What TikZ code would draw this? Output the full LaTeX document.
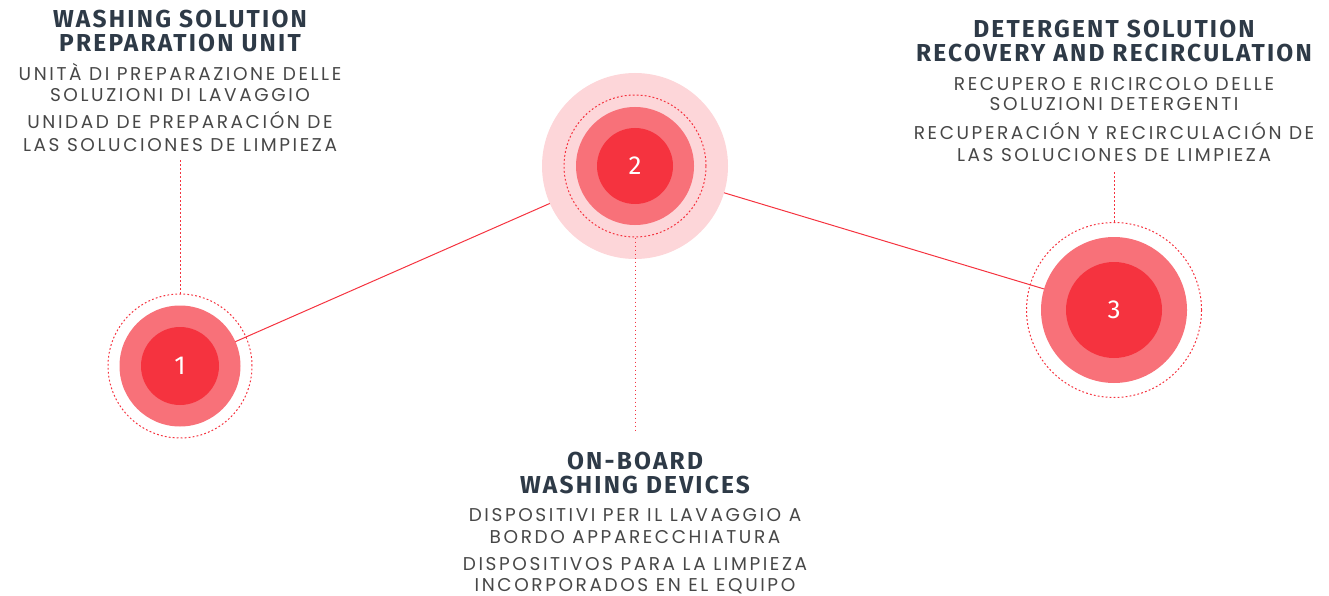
\documentclass[tikz,border=0pt]{standalone}
\usepackage{fontspec}
\setmainfont{Poppins}
\newfontfamily\headfont[LetterSpace=9.0]{Fira Sans}
\newfontfamily\subfont[LetterSpace=14.0]{Poppins}
\usetikzlibrary{calc}

\definecolor{redcore}{HTML}{F5333F}
\definecolor{redring}{HTML}{F87179}
\definecolor{redhalo}{HTML}{FDD6D9}
\definecolor{inkhead}{HTML}{2E3A47}
\definecolor{inksub}{HTML}{474747}

\tikzset{
  head/.style={font=\headfont\bfseries\fontsize{24.5}{24.5}\selectfont, text=inkhead, anchor=base, inner sep=0pt},
  sub/.style={font=\subfont\fontsize{18.5}{18.5}\selectfont, text=inksub, anchor=base, inner sep=0pt},
  link/.style={redcore, line width=1pt},
  dots/.style={redcore, line width=1pt, dash pattern=on 1.8pt off 2.2pt},
  num/.style={font=\headfont\fontsize{26}{26}\selectfont, text=white}
}

\begin{document}
\begin{tikzpicture}[x=1pt, y=-1pt]
\useasboundingbox (0,0) rectangle (1329,596);

% stations
\coordinate (c1) at (180,366);
\coordinate (c2) at (635,166);
\coordinate (c3) at (1114,310);

\draw[link] (c1) -- (c2) -- (c3);

\fill[redhalo] (c2) circle (93pt);
\fill[redring] (c1) circle (60.5pt);
\fill[redring] (c2) circle (59pt);
\fill[redring] (c3) circle (73pt);
\fill[redcore] (c1) circle (39pt);
\fill[redcore] (c2) circle (38pt);
\fill[redcore] (c3) circle (48pt);

\node[circle, dots, draw, minimum size=144pt] (r1) at (c1) {};
\node[circle, dots, draw, minimum size=142pt] (r2) at (c2) {};
\node[circle, dots, draw, minimum size=175pt] (r3) at (c3) {};

\node[num] (n1) at (c1) {1};
\node[num] (n2) at (c2) {2};
\node[num] (n3) at (c3) {3};

% leaders
\coordinate (d1) at (180,160);
\coordinate (d2) at (635,432);
\coordinate (d3) at (1114,172);
\draw[dots] (r1.north) -- (d1);
\draw[dots] (r2.south) -- (d2);
\draw[dots] (r3.north) -- (d3);

% texts, station 1
\node[head] (h1a) at (180,27.5) {WASHING SOLUTION};
\node[head] (h1b) at (180,51.5) {PREPARATION UNIT};
\node[sub] (i1a) at (180,80.5) {UNITÀ DI PREPARAZIONE DELLE};
\node[sub] (i1b) at (180,101.5) {SOLUZIONI DI LAVAGGIO};
\node[sub] (e1a) at (180,128.5) {UNIDAD DE PREPARACIÓN DE};
\node[sub] (e1b) at (180,151.5) {LAS SOLUCIONES DE LIMPIEZA};

% texts, station 2
\node[head] (h2a) at (635,469.5) {ON-BOARD};
\node[head] (h2b) at (635,493.5) {WASHING DEVICES};
\node[sub] (i2a) at (635,521.5) {DISPOSITIVI PER IL LAVAGGIO A};
\node[sub] (i2b) at (635,543) {BORDO APPARECCHIATURA};
\node[sub] (e2a) at (635,570.5) {DISPOSITIVOS PARA LA LIMPIEZA};
\node[sub] (e2b) at (635,591.5) {INCORPORADOS EN EL EQUIPO};

% texts, station 3
\node[head] (h3a) at (1114,37.5) {DETERGENT SOLUTION};
\node[head] (h3b) at (1114,61.5) {RECOVERY AND RECIRCULATION};
\node[sub] (i3a) at (1114,90.5) {RECUPERO E RICIRCOLO DELLE};
\node[sub] (i3b) at (1114,110.5) {SOLUZIONI DETERGENTI};
\node[sub] (e3a) at (1114,139.5) {RECUPERACIÓN Y RECIRCULACIÓN DE};
\node[sub] (e3b) at (1114,161.5) {LAS SOLUCIONES DE LIMPIEZA};

\end{tikzpicture}
\end{document}
